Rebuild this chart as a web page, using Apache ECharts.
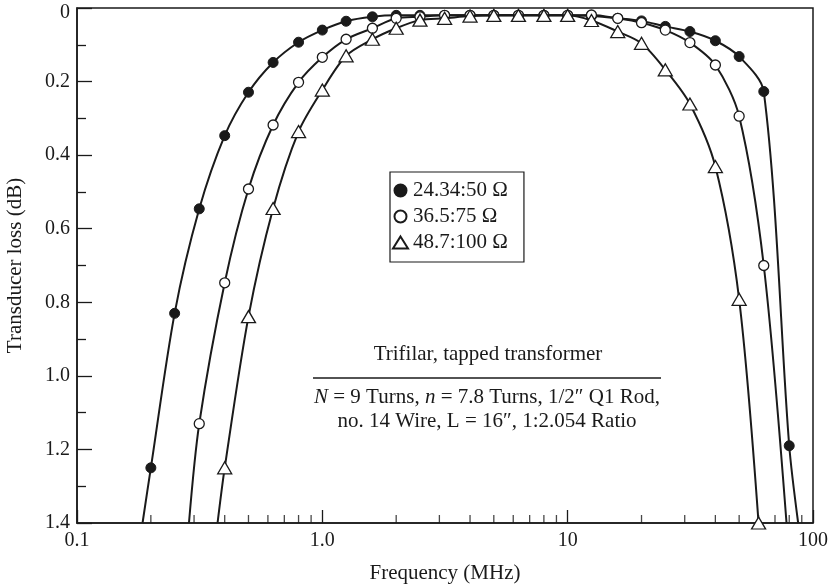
<!DOCTYPE html>
<html>
<head>
<meta charset="utf-8">
<script src="https://cdn.jsdelivr.net/npm/echarts@6/dist/echarts.min.js"></script>
<style>
  html, body { margin: 0; padding: 0; background: #fff; }
  #chart { width: 831px; height: 588px; }
</style>
</head>
<body>
<div id="chart"></div>
<script>
// frequencies (MHz) and loss (dB)
const filledFreq = [0.2, 0.25, 0.315, 0.4, 0.5, 0.63, 0.8, 1.0, 1.25, 1.6, 2, 2.5, 3.15, 4, 5, 6.3, 8, 10, 12.5, 16, 20, 25, 31.5, 40, 50, 63, 80];
const filledLoss = [1.25, 0.83, 0.546, 0.347, 0.229, 0.148, 0.093, 0.06, 0.036, 0.024, 0.02, 0.02, 0.02, 0.02, 0.02, 0.02, 0.02, 0.02, 0.022, 0.028, 0.035, 0.05, 0.064, 0.089, 0.132, 0.227, 1.19];
const filledEnds = [[0.185, 1.4], [87, 1.4]];

const openFreq = [0.315, 0.4, 0.5, 0.63, 0.8, 1.0, 1.25, 1.6, 2, 2.5, 3.15, 4, 5, 6.3, 8, 10, 12.5, 16, 20, 25, 31.5, 40, 50, 63];
const openLoss = [1.13, 0.747, 0.492, 0.318, 0.202, 0.134, 0.085, 0.055, 0.028, 0.024, 0.02, 0.02, 0.02, 0.02, 0.02, 0.02, 0.019, 0.028, 0.04, 0.06, 0.094, 0.155, 0.294, 0.7];
const openEnds = [[0.286, 1.4], [78, 1.4]];

const triFreq = [0.4, 0.5, 0.63, 0.8, 1.0, 1.25, 1.6, 2, 2.5, 3.15, 4, 5, 6.3, 8, 10, 12.5, 16, 20, 25, 31.5, 40, 50, 60];
const triLoss = [1.25, 0.839, 0.545, 0.336, 0.223, 0.13, 0.085, 0.055, 0.033, 0.028, 0.022, 0.02, 0.02, 0.02, 0.02, 0.034, 0.064, 0.096, 0.168, 0.261, 0.431, 0.792, 1.4];
const triEnds = [[0.374, 1.4], null];

const seriesNames = ['24.34:50 Ω', '36.5:75 Ω', '48.7:100 Ω'];
const minorTickFreq = [0.2, 0.3, 0.4, 0.5, 0.6, 0.7, 0.8, 0.9, 2, 3, 4, 5, 6, 7, 8, 9, 20, 30, 40, 50, 60, 70, 80, 90];

const serif = '"Liberation Serif", "DejaVu Serif", serif';
const ink = '#1a1a1a';

function build(freq, loss, ends) {
  const out = [];
  if (ends[0]) out.push({ value: ends[0], symbol: 'none' });
  freq.forEach((f, i) => out.push([f, loss[i]]));
  if (ends[1]) out.push({ value: ends[1], symbol: 'none' });
  return out;
}

const chart = echarts.init(document.getElementById('chart'));

const lineBase = {
  type: 'line',
  smooth: 0.3,
  lineStyle: { color: ink, width: 2 },
  showAllSymbol: true
};

chart.setOption({
  backgroundColor: '#fff',
  animation: false,
  grid: {
    left: 77, right: 18, top: 8, bottom: 65,
    containLabel: false,
    outerBoundsMode: 'none',
    show: true, borderColor: ink, borderWidth: 1.5
  },
  xAxis: {
    type: 'log',
    logBase: 10,
    min: 0.1,
    max: 100,
    name: 'Frequency (MHz)',
    nameLocation: 'middle',
    nameGap: 40,
    nameTextStyle: { fontFamily: serif, fontSize: 21, color: ink },
    axisLine: { onZero: false, lineStyle: { color: ink, width: 1.5 } },
    axisTick: { inside: true, length: 13, lineStyle: { color: ink, width: 1.3 } },
    splitLine: { show: false },
    axisLabel: {
      fontFamily: serif, fontSize: 20, color: ink, margin: 8,
      formatter: v => (v === 1 ? '1.0' : String(v))
    }
  },
  yAxis: {
    type: 'value',
    inverse: true,
    min: 0,
    max: 1.4,
    interval: 0.2,
    name: 'Transducer loss (dB)',
    nameLocation: 'middle',
    nameGap: 51,
    nameTextStyle: { fontFamily: serif, fontSize: 21, color: ink },
    axisLine: { show: true, onZero: false, lineStyle: { color: ink, width: 1.5 } },
    axisTick: { inside: true, length: 15, lineStyle: { color: ink, width: 1.3 } },
    minorTick: { show: true, splitNumber: 2, length: 9, lineStyle: { color: ink, width: 1.3 } },
    splitLine: { show: false },
    axisLabel: {
      fontFamily: serif, fontSize: 20, color: ink, margin: 7,
      formatter: v => (v === 0 ? '{z|0}' : v.toFixed(1)),
      rich: { z: { fontFamily: serif, fontSize: 20, color: ink, padding: [10, 0, 0, 0] } }
    }
  },
  legend: {
    orient: 'vertical',
    left: 390,
    top: 172,
    padding: [8, 16, 9, 2],
    itemGap: 5,
    itemWidth: 15,
    itemHeight: 12,
    borderColor: ink,
    borderWidth: 1.2,
    backgroundColor: '#fff',
    textStyle: { fontFamily: serif, fontSize: 21, lineHeight: 21, color: ink },
    data: [
      { name: seriesNames[0], icon: 'circle' },
      { name: seriesNames[1], icon: 'circle' },
      { name: seriesNames[2], icon: 'triangle' }
    ]
  },
  graphic: [
    {
      type: 'text', x: 488, y: 354,
      style: { text: 'Trifilar, tapped transformer', font: '21px ' + serif, fill: ink, textAlign: 'center', textVerticalAlign: 'middle' }
    },
    {
      type: 'line',
      shape: { x1: 313, y1: 378, x2: 661, y2: 378 },
      style: { stroke: ink, lineWidth: 1.3 }
    },
    {
      type: 'text', x: 487, y: 397,
      style: {
        text: '{i|N} = 9 Turns, {i|n} = 7.8 Turns, 1/2″ Q1 Rod,',
        font: '21px ' + serif, fill: ink, textAlign: 'center', textVerticalAlign: 'middle',
        rich: { i: { fontStyle: 'italic', fontFamily: serif, fontSize: 21, color: ink } }
      }
    },
    {
      type: 'text', x: 487, y: 421,
      style: { text: 'no. 14 Wire, L = 16″, 1:2.054 Ratio', font: '21px ' + serif, fill: ink, textAlign: 'center', textVerticalAlign: 'middle' }
    }
  ],
  series: [
    Object.assign({}, lineBase, {
      name: seriesNames[0],
      symbol: 'circle',
      symbolSize: 10,
      itemStyle: { color: ink, borderColor: ink, borderWidth: 1 },
      data: build(filledFreq, filledLoss, filledEnds),
      z: 2
    }),
    Object.assign({}, lineBase, {
      name: seriesNames[1],
      symbol: 'circle',
      symbolSize: 10,
      itemStyle: { color: '#fff', borderColor: ink, borderWidth: 1.3 },
      data: build(openFreq, openLoss, openEnds),
      z: 3
    }),
    Object.assign({}, lineBase, {
      name: seriesNames[2],
      symbol: 'triangle',
      symbolSize: [14, 12],
      itemStyle: { color: '#fff', borderColor: ink, borderWidth: 1.3 },
      data: build(triFreq, triLoss, triEnds),
      z: 4
    }),
    {
      name: 'minorTicks',
      type: 'scatter',
      silent: true,
      symbol: 'rect',
      symbolSize: [1.3, 8],
      symbolOffset: [0, -4],
      itemStyle: { color: ink },
      data: minorTickFreq.map(f => [f, 1.4]),
      z: 1
    }
  ]
});
</script>
</body>
</html>
